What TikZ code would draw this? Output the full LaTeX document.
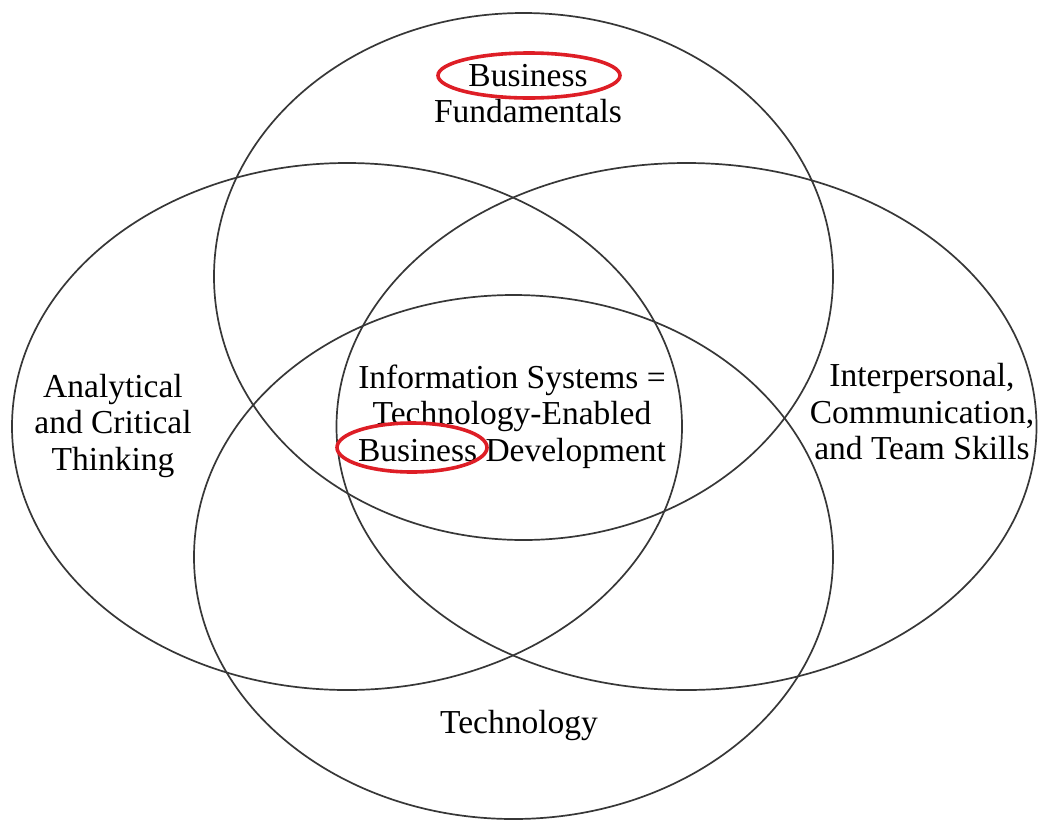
\documentclass[tikz,border=0pt]{standalone}
\usepackage{fontspec}
\setmainfont{Liberation Serif}
\usetikzlibrary{shapes.geometric}

\definecolor{outline}{RGB}{55,55,55}
\definecolor{mark}{RGB}{222,30,38}

\tikzset{
  venn/.style={ellipse, draw=outline, line width=1.7pt, inner sep=0pt},
  label/.style={align=center, inner sep=0pt, text=black,
    font=\fontsize{33.5}{36.5}\selectfont},
  highlight/.style={ellipse, draw=mark, line width=3.6pt, inner sep=0pt}
}

\begin{document}
\begin{tikzpicture}[x=1pt, y=-1pt]
  \useasboundingbox (0,0) rectangle (1038,820);
  \fill[white] (0,0) rectangle (1038,820);

  % the four overlapping skill areas
  \node[venn, minimum width=619pt, minimum height=527pt] (business) at (523.5,276.5) {};
  \node[venn, minimum width=670pt, minimum height=527pt] (analytic) at (347,426.5) {};
  \node[venn, minimum width=700pt, minimum height=527pt] (people) at (686.5,426.5) {};
  \node[venn, minimum width=639pt, minimum height=524pt] (tech) at (513.5,557) {};

  % area titles
  \node[label] (tBusiness) at (528,93.5) {Business\\Fundamentals};
  \node[label] (tAnalytic) at (113,425.5) {Analytical\\and Critical\\Thinking};
  \node[label] (tPeople) at (922,412) {Interpersonal,\\Communication,\\and Team Skills};
  \node[label] (tTech) at (519,725) {Technology};
  \node[label] (tCore) at (512,416.5) {Information Systems =\\Technology-Enabled\\Business Development};

  % red emphasis on the word "Business"
  \node[highlight, minimum width=182pt, minimum height=45pt] (hTop) at (529,75.5) {};
  \node[highlight, minimum width=150pt, minimum height=49pt] (hCore) at (412,447.5) {};
\end{tikzpicture}
\end{document}
